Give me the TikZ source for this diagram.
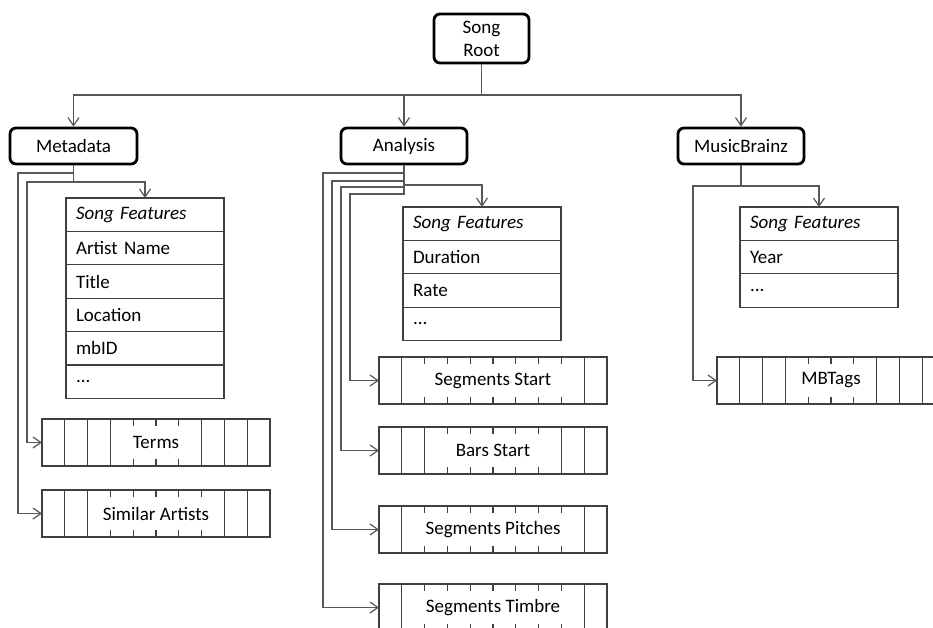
\documentclass[tikz,border=0pt]{standalone}
\usepackage{fontspec}
\setmainfont{Carlito}
\usetikzlibrary{arrows.meta,calc}
\definecolor{ln}{RGB}{88,88,88}
\definecolor{tb}{RGB}{64,64,64}
\tikzset{
  hdr/.style={draw=black, line width=2.8pt, rounded corners=6pt, minimum width=126pt,
    minimum height=36pt, inner sep=0pt, align=center, font=\fontsize{19}{23}\selectfont},
  conn/.style={draw=ln, line width=1.2pt, -{Straight Barb[length=8pt,width=11pt,line width=1.2pt]}},
  plainline/.style={draw=ln, line width=1.2pt},
  row/.style={draw=tb, line width=1.3pt, outer sep=0pt, minimum width=158pt, minimum height=33.4pt,
    text width=138pt, inner xsep=10pt, inner ysep=0pt, align=left, anchor=north west,
    font=\fontsize{19}{22}\selectfont},
  arr/.style={draw=tb, line width=1.3pt, outer sep=0pt, minimum width=228pt, minimum height=47pt,
    inner sep=0pt, anchor=north west},
  divider/.style={draw=tb, line width=1.3pt},
  lbl/.style={fill=white, inner sep=0pt, minimum height=33pt, font=\fontsize{19}{22}\selectfont},
}
% #1 name, #2 x, #3 y, #4 text, #5 number of cells covered by the label
\newcommand\arrbox[5]{%
  \node[arr] (#1) at (#2,#3) {};
  \foreach \i in {1,...,9}{\draw[divider] ($(#1.north west)+(\i*22.8,0)$) -- ($(#1.south west)+(\i*22.8,0)$);}
  \node[lbl, minimum width=#5*22.8pt-2pt] (#1-t) at (#1.center) {#4};
}
\begin{document}
\begin{tikzpicture}[x=1pt,y=-1pt]
\useasboundingbox (0,0) rectangle (933,627);
\clip (0,0) rectangle (933,627);

% header boxes
\node[hdr, minimum width=95pt, minimum height=49pt] (root) at (481.5,38.5) {Song\\Root};
\node[hdr, minimum width=127pt] (meta) at (73.5,146) {Metadata};
\node[hdr] (ana) at (404,146) {Analysis};
\node[hdr] (mb) at (741,146) {MusicBrainz};

% tables
\node[row] (m1) at (66,198) {\textit{Song Features}};
\node[row] (m2) at (m1.south west) {Artist Name};
\node[row] (m3) at (m2.south west) {Title};
\node[row] (m4) at (m3.south west) {Location};
\node[row] (m5) at (m4.south west) {mbID};
\node[row] (m6) at (m5.south west) {...};

\node[row] (a1) at (403,207) {\textit{Song Features}};
\node[row] (a2) at (a1.south west) {Duration};
\node[row] (a3) at (a2.south west) {Rate};
\node[row] (a4) at (a3.south west) {...};

\node[row] (b1) at (740,207) {\textit{Song Features}};
\node[row] (b2) at (b1.south west) {Year};
\node[row] (b3) at (b2.south west) {...};

% array boxes
\arrbox{terms}{42}{419}{Terms}{4}
\arrbox{sim}{42}{490}{Similar Artists}{6}
\arrbox{segs}{379}{357}{Segments Start}{8}
\arrbox{bars}{379}{427}{Bars Start}{6}
\arrbox{pitch}{379}{506}{Segments Pitches}{8}
\arrbox{timbre}{379}{584}{Segments Timbre}{8}
\arrbox{mbt}{717}{357}{MBTags}{4}

% root connectors
\coordinate (j0) at (481.5,95);
\draw[conn] (root.south) -- (j0) -| (meta.north);
\draw[conn] (root.south) -- (j0) -| (ana.north);
\draw[conn] (root.south) -- (j0) -| (mb.north);

% metadata connectors
\draw[plainline] (meta.south) -- (73.5,182);
\draw[conn] (meta.south) -- (73.5,173) -- (18,173) |- (sim.west);
\draw[conn] (meta.south) -- (73.5,182) -- (27,182) |- (terms.west);
\draw[conn] (meta.south) -- (73.5,182) -| (m1.north);

% analysis connectors
\draw[plainline] (ana.south) -- (404,194);
\draw[conn] (ana.south) -- (404,173) -- (323,173) |- (timbre.west);
\draw[conn] (ana.south) -- (404,181) -- (332,181) |- (pitch.west);
\draw[conn] (ana.south) -- (404,187) -- (341,187) |- (bars.west);
\draw[conn] (ana.south) -- (404,194) -- (350,194) |- (segs.west);
\draw[conn] (ana.south) -- (404,185) -| (a1.north);

% musicbrainz connectors
\draw[conn] (mb.south) -- (741,186) -- (693,186) |- (mbt.west);
\draw[conn] (mb.south) -- (741,186) -| (b1.north);
\end{tikzpicture}
\end{document}
